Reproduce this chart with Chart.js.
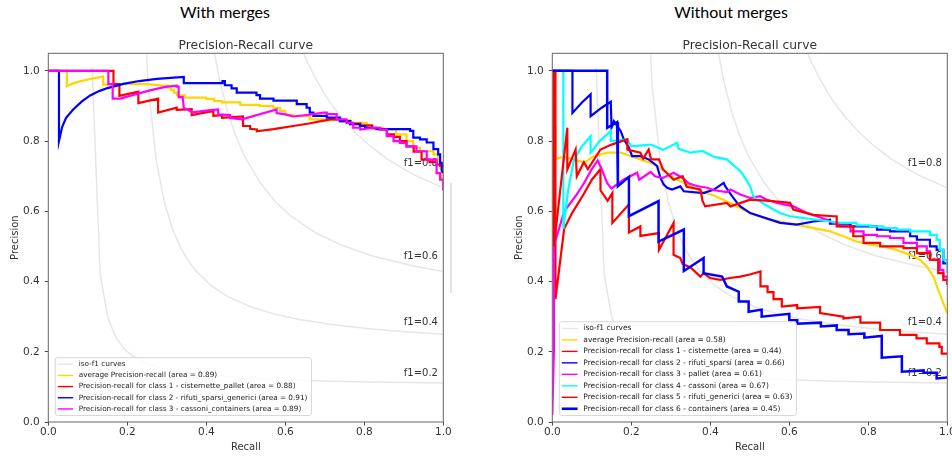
<!DOCTYPE html>
<html>
<head>
<meta charset="utf-8">
<script src="https://cdn.jsdelivr.net/npm/chart.js@4.4.1/dist/chart.umd.min.js"></script>
<style>
  html, body { margin: 0; padding: 0; background: #fff; }
  body { width: 952px; height: 456px; overflow: hidden; position: relative; }
  .head { position: absolute; top: 2px; font: 16px Lato, sans-serif; line-height: 19px; color: #000; text-align: center; }
  canvas { position: absolute; top: 0; }
</style>
</head>
<body>
<div class="head" style="left:0;width:450px">With merges</div>
<div class="head" style="left:481px;width:500px">Without merges</div>
<canvas id="left" width="476" height="456" style="left:0"></canvas>
<canvas id="right" width="476" height="456" style="left:504px"></canvas>
<div style="position:absolute;left:450px;top:183px;width:1.5px;height:110px;background:#e4e4e4"></div>
<script>
// axis ticks
const tickVals = [0, 0.2, 0.4, 0.6, 0.8, 1.0];

// iso-f1 reference curves (recall, precision)
const isoScores = [0.2, 0.4, 0.6, 0.8];
const isoLabelX = 0.9;
const isoLabelY = [0.132, 0.276, 0.465, 0.728];
const isoCurve02 = [[0.1110,1.009],[0.1312,0.4205],[0.1514,0.2946],[0.1716,0.2397],[0.1918,0.2089],[0.2120,0.1893],[0.2524,0.1656],[0.2929,0.1518],[0.3535,0.1394],[0.4141,0.1318],[0.5151,0.1241],[0.6161,0.1194],[0.7171,0.1162],[0.8182,0.1139],[0.9192,0.1122],[1.0,0.1111]];
const isoCurve04 = [[0.2120,3.533],[0.2322,1.4422],[0.2524,0.9634],[0.2727,0.7502],[0.2929,0.6306],[0.3131,0.5537],[0.3333,0.5001],[0.3535,0.4606],[0.3737,0.4303],[0.4141,0.3868],[0.4545,0.3572],[0.5151,0.3269],[0.5757,0.3065],[0.6363,0.2917],[0.7171,0.2774],[0.8182,0.2647],[0.9192,0.2556],[1.0,0.25]];
const isoCurve06 = [[0.3131,7.17],[0.3333,3.003],[0.3535,1.9822],[0.3737,1.5212],[0.3939,1.2585],[0.4141,1.0888],[0.4343,0.9701],[0.4545,0.8825],[0.4747,0.8152],[0.4949,0.7618],[0.5353,0.6825],[0.5757,0.6264],[0.6161,0.5847],[0.6767,0.5389],[0.7373,0.5058],[0.8182,0.4737],[0.9192,0.4454],[1.0,0.4286]];
const isoCurve08 = [[0.4141,11.747],[0.4343,5.0647],[0.4545,3.3358],[0.4747,2.5419],[0.4949,2.086],[0.5151,1.7901],[0.5353,1.5826],[0.5555,1.4289],[0.5757,1.3106],[0.5959,1.2168],[0.6161,1.1404],[0.6363,1.0771],[0.6565,1.0238],[0.6767,0.9782],[0.6969,0.9389],[0.7171,0.9046],[0.7373,0.8744],[0.7778,0.8235],[0.8182,0.7826],[0.8586,0.7489],[0.899,0.7206],[0.9394,0.6966],[1.0,0.6667]];
const isoCurves = [isoCurve02, isoCurve04, isoCurve06, isoCurve08];

// --- With merges ---
const mergedLabels = [
  'average Precision-recall (area = 0.89)',
  'Precision-recall for class 1 - cisternette_pallet (area = 0.88)',
  'Precision-recall for class 2 - rifuti_sparsi_generici (area = 0.91)',
  'Precision-recall for class 3 - cassoni_containers (area = 0.89)'
];
const mergedColors = ['gold', 'red', 'blue', 'magenta'];
const mergedAvg = [[0,1],[0.047,1],[0.047,0.956],[0.06,0.963],[0.08,0.97],[0.11,0.978],[0.139,0.984],[0.139,0.96],[0.17,0.962],[0.2,0.963],[0.25,0.962],[0.29,0.958],[0.3,0.958],[0.3,0.952],[0.31,0.952],[0.31,0.946],[0.318,0.946],[0.318,0.938],[0.326,0.938],[0.326,0.93],[0.345,0.93],[0.345,0.924],[0.4,0.924],[0.4,0.92],[0.42,0.92],[0.42,0.914],[0.44,0.914],[0.44,0.91],[0.486,0.91],[0.486,0.903],[0.535,0.903],[0.535,0.9],[0.57,0.9],[0.57,0.895],[0.587,0.895],[0.587,0.886],[0.6,0.886],[0.6,0.875],[0.62,0.875],[0.62,0.871],[0.662,0.871],[0.662,0.862],[0.695,0.862],[0.695,0.857],[0.73,0.86],[0.763,0.86],[0.763,0.852],[0.806,0.852],[0.806,0.838],[0.847,0.838],[0.847,0.833],[0.881,0.833],[0.881,0.819],[0.907,0.819],[0.907,0.8],[0.924,0.8],[0.924,0.781],[0.941,0.781],[0.941,0.771],[0.975,0.771],[0.975,0.762],[0.987,0.762],[0.987,0.743],[0.992,0.743],[0.992,0.724],[0.996,0.724],[0.996,0.69],[1.0,0.69],[1.0,0.66]];
const mergedClass1 = [[0,1],[0.165,1],[0.165,0.962],[0.18,0.962],[0.18,0.929],[0.228,0.941],[0.228,0.908],[0.278,0.921],[0.278,0.881],[0.325,0.895],[0.325,0.889],[0.363,0.891],[0.363,0.874],[0.418,0.886],[0.418,0.872],[0.44,0.874],[0.44,0.866],[0.493,0.87],[0.493,0.843],[0.511,0.843],[0.511,0.835],[0.528,0.833],[0.528,0.828],[0.57,0.834],[0.62,0.843],[0.66,0.85],[0.713,0.862],[0.74,0.862],[0.74,0.857],[0.765,0.857],[0.765,0.85],[0.79,0.85],[0.79,0.845],[0.82,0.845],[0.82,0.836],[0.84,0.836],[0.84,0.833],[0.857,0.833],[0.857,0.819],[0.875,0.819],[0.875,0.812],[0.89,0.812],[0.89,0.8],[0.907,0.8],[0.907,0.785],[0.925,0.785],[0.925,0.77],[0.945,0.77],[0.945,0.747],[0.965,0.747],[0.965,0.74],[0.983,0.74],[0.983,0.733],[0.992,0.733],[0.992,0.73],[1.0,0.73],[1.0,0.725]];
const mergedClass2 = [[0,1],[0.027,1],[0.027,0.80],[0.035,0.84],[0.045,0.866],[0.063,0.89],[0.085,0.913],[0.106,0.93],[0.13,0.943],[0.15,0.951],[0.19,0.963],[0.23,0.971],[0.275,0.977],[0.343,0.983],[0.343,0.965],[0.441,0.965],[0.441,0.971],[0.447,0.971],[0.447,0.959],[0.464,0.959],[0.464,0.95],[0.477,0.95],[0.477,0.938],[0.527,0.938],[0.527,0.931],[0.536,0.931],[0.536,0.921],[0.57,0.921],[0.57,0.915],[0.629,0.915],[0.629,0.905],[0.654,0.905],[0.654,0.895],[0.662,0.895],[0.662,0.881],[0.671,0.881],[0.671,0.872],[0.705,0.872],[0.705,0.867],[0.738,0.867],[0.738,0.857],[0.764,0.857],[0.764,0.848],[0.789,0.848],[0.789,0.843],[0.802,0.843],[0.802,0.838],[0.831,0.838],[0.831,0.834],[0.916,0.834],[0.916,0.829],[0.924,0.829],[0.924,0.81],[0.941,0.81],[0.941,0.805],[0.958,0.805],[0.958,0.796],[0.975,0.796],[0.975,0.777],[0.987,0.777],[0.987,0.762],[0.992,0.762],[0.992,0.738],[0.996,0.738],[0.996,0.715],[1.0,0.71]];
const mergedClass3 = [[0,1],[0.152,1],[0.152,0.962],[0.163,0.962],[0.163,0.921],[0.182,0.921],[0.22,0.933],[0.26,0.945],[0.3,0.955],[0.325,0.958],[0.325,0.955],[0.33,0.955],[0.33,0.925],[0.34,0.925],[0.343,0.895],[0.365,0.882],[0.41,0.888],[0.43,0.89],[0.43,0.876],[0.46,0.874],[0.46,0.866],[0.49,0.862],[0.578,0.89],[0.578,0.88],[0.6,0.876],[0.62,0.87],[0.66,0.875],[0.696,0.881],[0.705,0.881],[0.705,0.877],[0.73,0.877],[0.73,0.862],[0.755,0.862],[0.755,0.852],[0.772,0.852],[0.772,0.838],[0.79,0.838],[0.79,0.833],[0.824,0.838],[0.84,0.838],[0.84,0.833],[0.857,0.833],[0.857,0.814],[0.874,0.814],[0.874,0.8],[0.89,0.8],[0.89,0.795],[0.907,0.795],[0.907,0.785],[0.932,0.785],[0.932,0.771],[0.958,0.771],[0.958,0.747],[0.983,0.747],[0.983,0.709],[0.992,0.709],[0.992,0.69],[1.0,0.69],[1.0,0.66]];

// --- Without merges ---
const splitLabels = [
  'average Precision-recall (area = 0.58)',
  'Precision-recall for class 1 - cisternette (area = 0.44)',
  'Precision-recall for class 2 - rifuti_sparsi (area = 0.66)',
  'Precision-recall for class 3 - pallet (area = 0.61)',
  'Precision-recall for class 4 - cassoni (area = 0.67)',
  'Precision-recall for class 5 - rifuti_generici (area = 0.63)',
  'Precision-recall for class 6 - containers (area = 0.45)'
];
const splitColors = ['gold', 'red', 'blue', 'magenta', 'aqua', 'red', 'blue'];
const splitAvg = [[0,0.84],[0.008,0.84],[0.008,0.75],[0.03,0.755],[0.055,0.748],[0.08,0.738],[0.105,0.757],[0.139,0.767],[0.173,0.767],[0.2,0.757],[0.223,0.748],[0.249,0.738],[0.265,0.729],[0.29,0.71],[0.307,0.695],[0.333,0.681],[0.375,0.657],[0.409,0.645],[0.442,0.628],[0.47,0.612],[0.501,0.595],[0.535,0.581],[0.577,0.571],[0.619,0.562],[0.661,0.552],[0.703,0.543],[0.737,0.529],[0.77,0.514],[0.805,0.505],[0.838,0.5],[0.872,0.49],[0.906,0.476],[0.931,0.462],[0.948,0.443],[0.965,0.414],[0.977,0.376],[0.99,0.338],[1.0,0.31]];
const splitClass1 = [[0,1],[0.008,1],[0.008,0.35],[0.03,0.55],[0.05,0.595],[0.08,0.65],[0.1,0.69],[0.122,0.72],[0.122,0.66],[0.14,0.63],[0.152,0.652],[0.152,0.567],[0.194,0.62],[0.194,0.54],[0.223,0.557],[0.223,0.53],[0.27,0.538],[0.27,0.49],[0.307,0.567],[0.307,0.476],[0.324,0.467],[0.33,0.45],[0.35,0.44],[0.375,0.414],[0.383,0.424],[0.4,0.41],[0.425,0.405],[0.45,0.41],[0.476,0.414],[0.5,0.42],[0.527,0.429],[0.527,0.386],[0.545,0.386],[0.545,0.37],[0.56,0.37],[0.56,0.35],[0.581,0.35],[0.581,0.329],[0.62,0.333],[0.62,0.324],[0.678,0.328],[0.678,0.31],[0.737,0.3],[0.737,0.295],[0.78,0.3],[0.78,0.283],[0.83,0.283],[0.83,0.262],[0.88,0.262],[0.88,0.248],[0.922,0.248],[0.922,0.238],[0.948,0.238],[0.948,0.224],[0.98,0.224],[0.98,0.214],[0.986,0.214],[0.986,0.195],[1.0,0.195]];
const splitClass2 = [[0,1],[0.051,1],[0.051,0.88],[0.075,0.91],[0.097,0.933],[0.097,0.871],[0.125,0.895],[0.148,0.912],[0.15,0.838],[0.156,0.857],[0.173,0.829],[0.181,0.805],[0.194,0.781],[0.202,0.757],[0.223,0.757],[0.244,0.748],[0.265,0.729],[0.274,0.695],[0.282,0.676],[0.291,0.667],[0.303,0.662],[0.324,0.671],[0.333,0.657],[0.383,0.652],[0.409,0.662],[0.434,0.681],[0.438,0.671],[0.455,0.643],[0.468,0.624],[0.476,0.614],[0.501,0.595],[0.577,0.567],[0.619,0.562],[0.661,0.571],[0.703,0.576],[0.703,0.565],[0.755,0.565],[0.755,0.557],[0.822,0.557],[0.822,0.548],[0.855,0.548],[0.855,0.543],[0.906,0.543],[0.906,0.529],[0.923,0.529],[0.923,0.519],[0.956,0.519],[0.956,0.5],[0.973,0.5],[0.973,0.49],[0.99,0.49],[0.99,0.452],[1.0,0.452]];
const splitClass3 = [[0,0.02],[0.004,0.2],[0.004,0.5],[0.03,0.6],[0.06,0.645],[0.08,0.68],[0.1,0.72],[0.115,0.745],[0.125,0.72],[0.139,0.68],[0.15,0.665],[0.18,0.69],[0.215,0.71],[0.22,0.69],[0.249,0.712],[0.26,0.7],[0.28,0.695],[0.307,0.71],[0.33,0.695],[0.345,0.68],[0.366,0.672],[0.392,0.667],[0.41,0.66],[0.442,0.655],[0.451,0.662],[0.476,0.648],[0.501,0.638],[0.526,0.643],[0.543,0.633],[0.569,0.624],[0.61,0.614],[0.645,0.595],[0.695,0.576],[0.729,0.557],[0.755,0.557],[0.755,0.543],[0.788,0.543],[0.788,0.533],[0.822,0.533],[0.822,0.529],[0.855,0.529],[0.855,0.524],[0.889,0.524],[0.889,0.51],[0.923,0.51],[0.923,0.5],[0.948,0.5],[0.948,0.486],[0.956,0.486],[0.956,0.462],[0.981,0.462],[0.981,0.433],[0.99,0.433],[0.99,0.414],[1.0,0.414],[1.0,0.4]];
const splitClass4 = [[0,1],[0.028,1],[0.028,0.55],[0.04,0.66],[0.055,0.748],[0.075,0.785],[0.097,0.814],[0.097,0.767],[0.12,0.8],[0.148,0.829],[0.148,0.8],[0.19,0.805],[0.2,0.785],[0.25,0.79],[0.28,0.775],[0.316,0.795],[0.32,0.778],[0.35,0.767],[0.38,0.772],[0.41,0.755],[0.442,0.748],[0.46,0.73],[0.476,0.715],[0.485,0.7],[0.501,0.671],[0.509,0.643],[0.518,0.633],[0.56,0.605],[0.577,0.595],[0.602,0.586],[0.67,0.576],[0.703,0.571],[0.729,0.567],[0.77,0.567],[0.77,0.56],[0.805,0.56],[0.805,0.557],[0.838,0.557],[0.838,0.552],[0.872,0.552],[0.872,0.548],[0.906,0.548],[0.906,0.543],[0.956,0.543],[0.956,0.533],[0.973,0.533],[0.973,0.519],[0.981,0.519],[0.981,0.49],[0.99,0.49],[0.99,0.462],[1.0,0.462],[1.0,0.424]];
const splitClass5 = [[0,1],[0.004,1],[0.004,0.5],[0.038,0.838],[0.038,0.719],[0.059,0.776],[0.062,0.7],[0.08,0.74],[0.09,0.72],[0.122,0.776],[0.15,0.79],[0.19,0.805],[0.19,0.776],[0.223,0.767],[0.23,0.75],[0.244,0.776],[0.25,0.748],[0.27,0.748],[0.28,0.72],[0.307,0.69],[0.33,0.7],[0.34,0.67],[0.375,0.662],[0.38,0.63],[0.387,0.614],[0.442,0.624],[0.451,0.614],[0.501,0.633],[0.55,0.63],[0.602,0.624],[0.61,0.605],[0.661,0.59],[0.712,0.586],[0.72,0.586],[0.72,0.557],[0.762,0.557],[0.762,0.529],[0.788,0.529],[0.788,0.51],[0.83,0.51],[0.83,0.5],[0.889,0.5],[0.889,0.495],[0.923,0.495],[0.923,0.481],[0.956,0.481],[0.956,0.462],[0.977,0.462],[0.977,0.424],[0.99,0.424],[0.99,0.405],[1.0,0.405],[1.0,0.39]];
const splitClass6 = [[0,1],[0.139,1],[0.139,0.838],[0.164,0.854],[0.166,0.671],[0.194,0.698],[0.194,0.586],[0.269,0.629],[0.269,0.514],[0.333,0.548],[0.333,0.43],[0.383,0.467],[0.383,0.424],[0.43,0.414],[0.442,0.386],[0.472,0.371],[0.472,0.343],[0.497,0.343],[0.497,0.314],[0.53,0.32],[0.53,0.3],[0.6,0.308],[0.6,0.29],[0.62,0.29],[0.62,0.28],[0.68,0.283],[0.68,0.272],[0.72,0.275],[0.72,0.262],[0.75,0.262],[0.75,0.25],[0.79,0.252],[0.79,0.24],[0.834,0.245],[0.834,0.183],[0.885,0.187],[0.885,0.143],[0.94,0.147],[0.94,0.14],[0.973,0.14],[0.973,0.124],[1.0,0.127]];

const FONT = '"DejaVu Sans"';
Chart.defaults.font.family = FONT;

// title, f1 labels, frame and the inside legend
const decor = {
  id: 'decor',
  beforeDatasetsDraw(chart, args, opts) {
    const { ctx, chartArea: a, scales: { x, y } } = chart;
    ctx.save();
    ctx.fillStyle = '#333';
    ctx.font = '12.3px ' + FONT;
    ctx.textAlign = 'center';
    ctx.textBaseline = 'alphabetic';
    ctx.fillText(opts.title, (a.left + a.right) / 2, a.top - 4.8);
    ctx.font = '10px ' + FONT;
    ctx.textAlign = 'left';
    isoScores.forEach((f, i) => {
      ctx.fillText('f1=' + f.toFixed(1), x.getPixelForValue(isoLabelX), y.getPixelForValue(isoLabelY[i]));
    });
    ctx.restore();
  },
  afterDatasetsDraw(chart, args, opts) {
    const { ctx, chartArea: a } = chart;
    ctx.save();
    ctx.strokeStyle = '#666';
    ctx.lineWidth = 1;
    ctx.strokeRect(a.left, a.top, a.right - a.left, a.bottom - a.top);

    const fs = opts.legendSize;
    const items = chart.data.datasets.filter(d => d.label);
    ctx.font = fs + 'px ' + FONT;
    const rowH = fs * 1.53;
    const textX = 3.2 * fs;
    const w = textX + Math.max(...items.map(d => ctx.measureText(d.label).width)) + 4;
    const h = items.length * rowH + 2;
    const bx = a.left + 7, by = a.bottom - 6.5 - h;
    ctx.beginPath();
    if (ctx.roundRect) ctx.roundRect(bx, by, w, h, 2.5); else ctx.rect(bx, by, w, h);
    ctx.fillStyle = 'rgba(255,255,255,0.85)';
    ctx.fill();
    ctx.strokeStyle = '#d8d8d8';
    ctx.stroke();
    items.forEach((d, i) => {
      const cy = by + 1 + rowH * (i + 0.5);
      ctx.beginPath();
      ctx.moveTo(bx + 2.5, cy);
      ctx.lineTo(bx + 2.5 + 2.1 * fs, cy);
      ctx.strokeStyle = d.borderColor;
      ctx.lineWidth = d.borderWidth > 2.3 ? 2.6 : 1.4;
      ctx.stroke();
      ctx.fillStyle = '#222';
      ctx.textAlign = 'left';
      ctx.textBaseline = 'middle';
      ctx.fillText(d.label, bx + textX, cy);
    });
    ctx.restore();
  }
};

function toXY(pts) {
  return pts.map(p => ({ x: p[0], y: p[1] }));
}

function axis(title, isX) {
  return {
    type: 'linear',
    min: 0,
    max: isX ? 1 : 1.05,
    afterFit: s => { if (isX) s.height = 34; else s.width = 48.3; },
    afterBuildTicks: s => { s.ticks = tickVals.map(v => ({ value: v })); },
    ticks: {
      font: { size: 10.5 },
      color: '#333',
      padding: isX ? 0.2 : 5,
      autoSkip: false,
      maxRotation: 0,
      callback: v => v.toFixed(1)
    },
    grid: { drawOnChartArea: false, drawTicks: true, tickLength: 3.5, color: '#444' },
    border: { display: false },
    title: {
      display: true,
      text: title,
      color: '#333',
      font: { size: 10 },
      padding: isX ? { top: 0, bottom: 3 } : { top: 9, bottom: 0 }
    }
  };
}

function makeChart(id, curves, labels, colors, widths, legendSize) {
  const datasets = [];
  isoCurves.forEach((c, i) => datasets.push({
    label: i === 0 ? 'iso-f1 curves' : '',
    data: toXY(c),
    borderColor: 'rgba(128,128,128,0.2)',
    borderWidth: 1.5
  }));
  curves.forEach((c, i) => datasets.push({
    label: labels[i],
    data: toXY(c),
    borderColor: colors[i],
    borderWidth: widths[i]
  }));
  // later curves on top, like matplotlib
  datasets.forEach((d, i) => {
    d.order = -i;
    d.pointRadius = 0;
    d.tension = 0;
    d.fill = false;
  });

  return new Chart(document.getElementById(id), {
    type: 'line',
    data: { datasets },
    options: {
      responsive: false,
      animation: false,
      events: [],
      layout: { padding: { left: 0, right: 32.7, top: 53.3, bottom: 0 } },
      plugins: {
        legend: { display: false },
        tooltip: { enabled: false },
        title: { display: false },
        decor: { title: 'Precision-Recall curve', legendSize }
      },
      scales: { x: axis('Recall', true), y: axis('Precision', false) }
    },
    plugins: [decor]
  });
}

makeChart('left',
  [mergedAvg, mergedClass1, mergedClass2, mergedClass3],
  mergedLabels, mergedColors, [2.2, 2.2, 2.2, 2.2], 7.3);

makeChart('right',
  [splitAvg, splitClass1, splitClass2, splitClass3, splitClass4, splitClass5, splitClass6],
  splitLabels, splitColors, [2.2, 2.2, 2.2, 2.2, 2.2, 2.2, 2.5], 7.5);
</script>
</body>
</html>
